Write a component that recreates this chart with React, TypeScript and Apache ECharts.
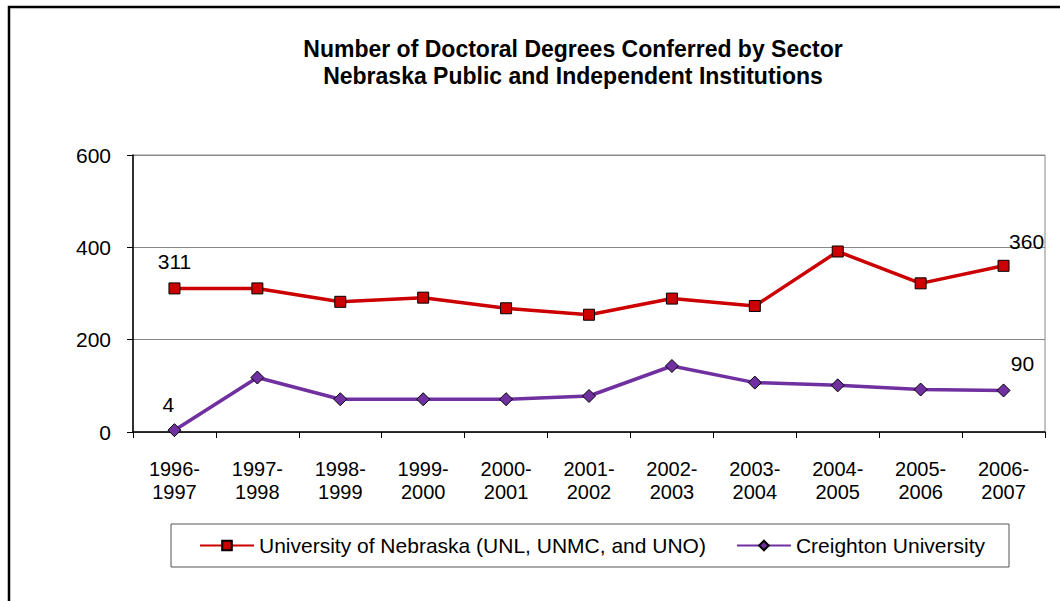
import React, { useEffect, useRef } from "react";
import * as echarts from "echarts";

const categories = [
  "1996-\n1997", "1997-\n1998", "1998-\n1999", "1999-\n2000", "2000-\n2001", "2001-\n2002",
  "2002-\n2003", "2003-\n2004", "2004-\n2005", "2005-\n2006", "2006-\n2007",
];
const unebValues = [311, 311, 282, 291, 268, 254, 289, 273, 391, 322, 360];
const creightonValues = [4, 118, 71, 71, 71, 78, 143, 107, 101, 92, 90];
const seriesNames = ["University of Nebraska (UNL, UNMC, and UNO)", "Creighton University"];
const titleText = "Number of Doctoral Degrees Conferred by Sector\nNebraska Public and Independent Institutions";

const FONT = "'Liberation Sans', Arial, sans-serif";

export default function App() {
  const ref = useRef<HTMLDivElement>(null);
  useEffect(() => {
    document.body.style.margin = "0";
    const chart = echarts.init(ref.current!, null, { renderer: "svg" });
    const lastIdx = categories.length - 1;
    const mk = (vals: number[], labelFirst: any, labelLast: any) =>
      vals.map((v, i) => {
        if (i === 0) return { value: v, label: labelFirst };
        if (i === lastIdx) return { value: v, label: labelLast };
        return v;
      });
    chart.setOption({
      animation: false,
      textStyle: { fontFamily: FONT },
      title: {
        text: titleText,
        left: 568,
        textAlign: "center",
        top: 30,
        textStyle: { fontSize: 23, fontWeight: "bold", color: "#000", lineHeight: 27, fontFamily: FONT },
      },
      graphic: [
        {
          type: "rect",
          shape: { x: 9, y: 7, width: 1200, height: 800 },
          style: { fill: "none", stroke: "#000", lineWidth: 2.5 },
          silent: true,
        },
      ],
      legend: {
        left: 171,
        top: 524,
        padding: [11, 24, 11, 28],
        borderColor: "#555",
        borderWidth: 1,
        itemWidth: 54,
        itemHeight: 12,
        itemGap: 30,
        textStyle: { fontSize: 21, color: "#000", fontFamily: FONT },
        data: seriesNames,
      },
      grid: {
        left: 133,
        right: 15,
        top: 155,
        bottom: 169,
        show: true,
        borderColor: "#888",
        borderWidth: 1,
      },
      xAxis: {
        type: "category",
        data: categories,
        boundaryGap: true,
        axisLine: { lineStyle: { color: "#000", width: 1.5 } },
        axisTick: { show: true, length: 6, lineStyle: { color: "#000" } },
        axisLabel: { color: "#000", fontSize: 20, lineHeight: 23, margin: 25, fontFamily: FONT },
      },
      yAxis: {
        type: "value",
        min: 0,
        max: 600,
        interval: 200,
        axisLine: { show: true, lineStyle: { color: "#000", width: 1.5 } },
        axisTick: { show: true, length: 6, lineStyle: { color: "#000" } },
        axisLabel: { color: "#000", fontSize: 21, margin: 22, fontFamily: FONT },
        splitLine: { lineStyle: { color: "#888", width: 1 } },
      },
      series: [
        {
          name: seriesNames[0],
          type: "line",
          data: mk(
            unebValues,
            { show: true, position: "top", distance: 10, fontSize: 21, color: "#000" },
            { show: true, position: "top", distance: 8, offset: [23, 0], fontSize: 21, color: "#000" }
          ),
          symbol: "rect",
          symbolSize: 11,
          itemStyle: { color: "#CC0000", borderColor: "#000", borderWidth: 1 },
          lineStyle: { color: "#CC0000", width: 3.5 },
          label: { show: false },
        },
        {
          name: seriesNames[1],
          type: "line",
          data: mk(
            creightonValues,
            { show: true, position: "top", distance: 8, offset: [-6, 0], fontSize: 21, color: "#000" },
            { show: true, position: "top", distance: 9, offset: [19, 0], fontSize: 21, color: "#000" }
          ),
          symbol: "diamond",
          symbolSize: 13,
          itemStyle: { color: "#7030A0", borderColor: "#000", borderWidth: 1 },
          lineStyle: { color: "#7030A0", width: 3.5 },
          label: { show: false },
        },
      ],
    });
    return () => chart.dispose();
  }, []);
  return <div ref={ref} style={{ width: 1060, height: 601 }} />;
}
